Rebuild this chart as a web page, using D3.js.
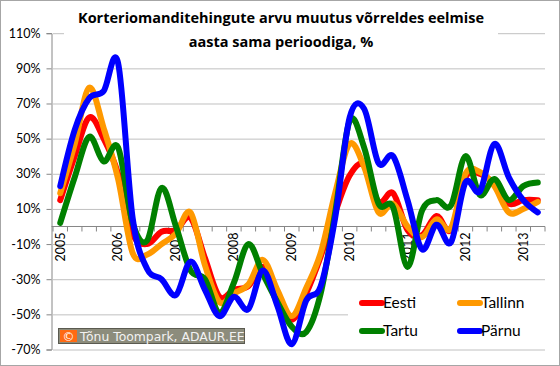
<!DOCTYPE html>
<html>
<head>
<meta charset="utf-8">
<script src="https://cdn.jsdelivr.net/npm/d3@7"></script>
<style>
  body { margin: 0; background: #fff; }
  svg { display: block; }
</style>
</head>
<body>
<div id="chart"></div>
<script>
// Quarterly categories, 2005 I .. 2013 II
var years = [2005, 2006, 2007, 2008, 2009, 2010, 2011, 2012, 2013];
var quarters = [];
years.forEach(function(yr) {
    for (var q = 1; q <= 4; q++) {
        if (yr == 2013 && q > 2) break;
        quarters.push(yr + "-" + q);
    }
});

var yTicks = [-70, -50, -30, -10, 10, 30, 50, 70, 90, 110];

// Change vs same period of previous year, %
var eesti   = [15, 40, 62, 50, 30, -4, -10, -3, -2, 5, -18, -40, -36, -34, -23, -38, -53, -38, -17, 8, 29, 35, 14, 19, -2, -5, 6, -2, 28, 30, 24, 13, 15, 15];
var tallinn = [19, 47, 79, 56, 27, -15, -16, -10, -4, 8, -22, -43, -38, -33, -19, -36, -51, -35, -15, 19, 47, 34, 8, 13, 0, -6, 4, -1, 30, 31, 23, 8, 10, 14];
var tartu   = [2, 28, 51, 37, 45, 2, -8, 22, 0, -25, -30, -49, -32, -10, -27, -43, -57, -60, -38, 8, 60, 45, 13, 11, -23, 9, 15, 12, 40, 18, 27, 15, 23, 25];
var parnu   = [23, 55, 73, 77, 93, 5, -24, -30, -39, -20, -36, -51, -40, -47, -25, -45, -67, -42, -34, 5, 62, 67, 36, 40, 15, -13, 1, -9, 25, 20, 47, 28, 15, 8];

var seriesNames = ["Eesti", "Tallinn", "Tartu", "Pärnu"];
var seriesData = [eesti, tallinn, tartu, parnu];
var seriesColors = ["#ff0000", "#ff9900", "#008000", "#0000ff"];

var width = 560, height = 366;
var plot = { left: 53, right: 545, top: 33.2, bottom: 349.5 };

var svg = d3.select("#chart").append("svg")
    .attr("width", width)
    .attr("height", height);

// outer frame
svg.append("rect")
    .attr("x", 0.5).attr("y", 0.5)
    .attr("width", width - 1).attr("height", height - 1)
    .attr("fill", "#fff")
    .attr("stroke", "#a6a6a6");

var x = d3.scaleBand().domain(quarters).range([plot.left, plot.right]);
var y = d3.scaleLinear().domain([-70, 110]).range([plot.bottom, plot.top]);

// gridlines
svg.append("g")
    .attr("transform", "translate(" + plot.left + ",0)")
    .call(d3.axisLeft(y).tickValues(yTicks).tickSize(-(plot.right - plot.left)).tickFormat(""))
    .call(function(g) {
        g.select(".domain").remove();
        g.selectAll("line").attr("stroke", "#c0c0c0");
    });

// y axis
svg.append("g")
    .attr("transform", "translate(" + (plot.left - 1.5) + ",0)")
    .call(d3.axisLeft(y).tickValues(yTicks).tickSize(5).tickPadding(6).tickFormat(function(d) { return d + "%"; }))
    .call(function(g) {
        g.select(".domain").attr("stroke", "#868686");
        g.selectAll("line").attr("stroke", "#868686");
        g.selectAll("text")
            .attr("font-family", "Lato, 'Open Sans', sans-serif")
            .attr("font-size", 12.5)
            .attr("fill", "#000");
    });

// x axis at 0 with ticks between quarters
var xAxis = svg.append("g");
xAxis.append("line")
    .attr("x1", plot.left - 1.5).attr("x2", plot.right)
    .attr("y1", y(0)).attr("y2", y(0))
    .attr("stroke", "#868686");
xAxis.selectAll("line.tick")
    .data(quarters.concat(["end"]))
    .enter().append("line")
    .attr("class", "tick")
    .attr("x1", function(d) { return d == "end" ? plot.right : x(d); })
    .attr("x2", function(d) { return d == "end" ? plot.right : x(d); })
    .attr("y1", y(0)).attr("y2", y(0) + 5)
    .attr("stroke", "#868686");
xAxis.selectAll("text")
    .data(quarters.filter(function(d) { return d.slice(-2) == "-1"; }))
    .enter().append("text")
    .attr("transform", function(d) {
        return "translate(" + (x(d) + x.bandwidth() / 2) + "," + (y(0) + 6) + ") rotate(-90)";
    })
    .attr("text-anchor", "end")
    .attr("dy", "0.35em")
    .attr("font-family", "Lato, 'Open Sans', sans-serif")
    .attr("font-size", 12.5)
    .attr("fill", "#000")
    .text(function(d) { return d.slice(0, 4); });

// lines
var line = d3.line()
    .x(function(d, i) { return x(quarters[i]) + x.bandwidth() / 2; })
    .y(function(d) { return y(d); })
    .curve(d3.curveCardinal.tension(0));

svg.append("g").selectAll("path")
    .data(seriesData)
    .enter().append("path")
    .attr("d", line)
    .attr("fill", "none")
    .attr("stroke", function(d, i) { return seriesColors[i]; })
    .attr("stroke-width", 6)
    .attr("stroke-linejoin", "round")
    .attr("stroke-linecap", "round");

// title
svg.append("rect")
    .attr("x", 64).attr("y", 4)
    .attr("width", 434).attr("height", 50)
    .attr("fill", "#fff");
var title = svg.append("text")
    .attr("text-anchor", "middle")
    .attr("font-family", "'Open Sans', Lato, sans-serif")
    .attr("font-weight", "bold")
    .attr("font-size", 14.5)
    .attr("fill", "#000");
title.append("tspan").attr("x", 281).attr("y", 22.5).text("Korteriomanditehingute arvu muutus võrreldes eelmise");
title.append("tspan").attr("x", 281).attr("y", 46.5).text("aasta sama perioodiga, %");

// legend
svg.append("rect")
    .attr("x", 348).attr("y", 284)
    .attr("width", 197).attr("height", 64)
    .attr("fill", "#fff");
var legend = svg.append("g").selectAll("g")
    .data(seriesNames)
    .enter().append("g")
    .attr("transform", function(d, i) {
        return "translate(" + (i % 2 == 0 ? 362 : 460) + "," + (i < 2 ? 303 : 331) + ")";
    });
legend.append("line")
    .attr("x1", 0).attr("x2", 20)
    .attr("stroke", function(d, i) { return seriesColors[i]; })
    .attr("stroke-width", 6)
    .attr("stroke-linecap", "round");
legend.append("text")
    .attr("x", 21)
    .attr("dy", "0.35em")
    .attr("font-family", "Lato, 'Open Sans', sans-serif")
    .attr("font-size", 15.5)
    .attr("fill", "#000")
    .text(function(d) { return d; });

// copyright badge
var badge = svg.append("g");
badge.append("rect")
    .attr("x", 58.5).attr("y", 328.5)
    .attr("width", 186).attr("height", 15)
    .attr("fill", "#8c8c7c")
    .attr("stroke", "#5a5a50");
badge.append("rect")
    .attr("x", 60).attr("y", 330)
    .attr("width", 17).attr("height", 12)
    .attr("fill", "#ff6a13");
badge.append("text")
    .attr("x", 68.5).attr("y", 340.5)
    .attr("text-anchor", "middle")
    .attr("font-family", "'DejaVu Sans', sans-serif")
    .attr("font-size", 12)
    .attr("fill", "#fff")
    .text("©");
badge.append("text")
    .attr("x", 80).attr("y", 340.5)
    .attr("font-family", "'DejaVu Sans', sans-serif")
    .attr("font-size", 12.4)
    .attr("fill", "#f2f2f2")
    .text("Tõnu Toompark, ADAUR.EE");
</script>
</body>
</html>
